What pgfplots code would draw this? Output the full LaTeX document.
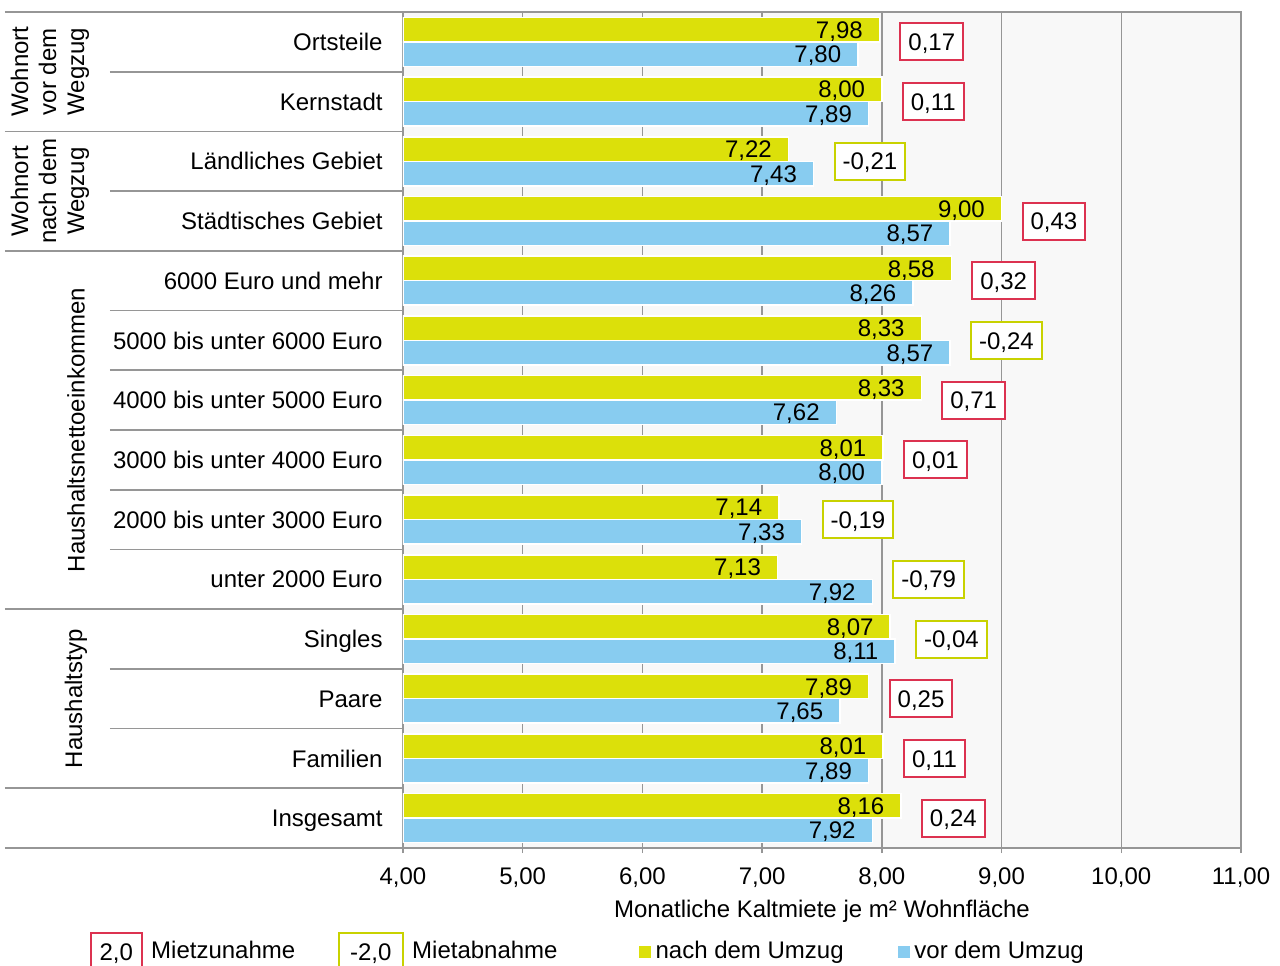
\documentclass[border=0pt]{standalone}
\usepackage{fontspec}
\setmainfont{Liberation Sans}
\usepackage{pgfplots}
\usepackage{pgfplotstable}
\pgfplotsset{compat=1.18}
\definecolor{ylw}{RGB}{220,224,10}
\definecolor{blu}{RGB}{136,204,240}
\definecolor{redb}{RGB}{220,50,80}
\definecolor{ylwb}{RGB}{200,210,0}
\definecolor{gridc}{RGB}{150,150,150}
\definecolor{bgc}{RGB}{248,248,248}

\pgfplotstableread{
y nach vor
13 7.98 7.80
12 8.00 7.89
11 7.22 7.43
10 9.00 8.57
9 8.58 8.26
8 8.33 8.57
7 8.33 7.62
6 8.01 8.00
5 7.14 7.33
4 7.13 7.92
3 8.07 8.11
2 7.89 7.65
1 8.01 7.89
0 8.16 7.92
}\rents

\pgfplotstableread{
x y lab
7.98 13 0,17
8.00 12 0,11
9.00 10 0,43
8.58 9 0,32
8.33 7 0,71
8.01 6 0,01
7.89 2 0,25
8.01 1 0,11
8.16 0 0,24
}\diffpos

\pgfplotstableread{
x y lab
7.43 11 -0,21
8.57 8 -0,24
7.33 5 -0,19
7.92 4 -0,79
8.11 3 -0,04
}\diffneg

\tikzset{diffbox/.style={draw=#1, line width=1pt, fill=white, text=black, inner xsep=4pt, inner ysep=0pt, minimum height=18.5pt, text height=8.6pt, text depth=0pt}}

\begin{document}
\fontsize{12}{14}\selectfont
\begin{tikzpicture}
\useasboundingbox (-201.5pt,-58.5pt) rectangle (438.5pt,424pt);
\begin{axis}[
  width=419pt, height=418pt, scale only axis,
  xmin=4, xmax=11, ymin=-0.5, ymax=13.5,
  clip mode=individual,
  axis background/.style={fill=bgc},
  axis line style={draw=gridc, line width=0.9pt},
  xmajorgrids, grid style={draw=gridc, line width=0.75pt},
  xtick={4,5,...,11}, xtick pos=bottom, tick align=center, major tick length=5pt,
  x tick style={draw=gridc, line width=0.75pt},
  ytick={0,1,...,13}, ytick pos=left, y tick style={draw=none},
  yticklabels={Insgesamt, Familien, Paare, Singles, unter 2000 Euro, 2000 bis unter 3000 Euro, 3000 bis unter 4000 Euro, 4000 bis unter 5000 Euro, 5000 bis unter 6000 Euro, 6000 Euro und mehr, Städtisches Gebiet, Ländliches Gebiet, Kernstadt, Ortsteile},
  yticklabel style={anchor=base east, inner sep=0pt, xshift=-7.5pt, yshift=-4.3pt},
  xticklabel style={anchor=base, inner sep=0pt, yshift=-15.5pt},
  /pgf/number format/use comma, /pgf/number format/fixed, /pgf/number format/fixed zerofill, /pgf/number format/precision=2, /pgf/number format/assume math mode=true,
  xlabel={Monatliche Kaltmiete je m² Wohnfläche},
  xlabel style={at={(axis description cs:0.5,0)}, anchor=base, yshift=-34.5pt, inner sep=0pt},
  legend columns=4, legend cell align=left,
  legend style={draw=none, fill=none, at={(axis description cs:-0.3742,-0.124)}, anchor=west, inner sep=0pt, column sep=0pt, nodes={inner sep=0pt, text=black}},
]
\addplot[xbar, bar width=0.41, bar shift=0.205, fill=ylw, draw=white, line width=0.75pt, forget plot,
  point meta=x, nodes near coords,
  nodes near coords style={anchor=base east, inner sep=0pt, xshift=-8pt, yshift=1.82pt, text=black}]
  table[x=nach, y=y] {\rents};
\addplot[xbar, bar width=0.41, bar shift=-0.205, fill=blu, draw=white, line width=0.75pt, forget plot,
  point meta=x, nodes near coords,
  nodes near coords style={anchor=base east, inner sep=0pt, xshift=-8pt, yshift=-10.42pt, text=black}]
  table[x=vor, y=y] {\rents};
\addplot[draw=none, forget plot, point meta=explicit symbolic, nodes near coords,
  nodes near coords style={diffbox=redb, anchor=west, xshift=10pt}]
  table[x=x, y=y, meta=lab] {\diffpos};
\addplot[draw=none, forget plot, point meta=explicit symbolic, nodes near coords,
  nodes near coords style={diffbox=ylwb, anchor=west, xshift=10pt}]
  table[x=x, y=y, meta=lab] {\diffneg};

\pgfplotsinvokeforeach{13.5,11.5,9.5,3.5,0.5,-0.5}{
  \draw[gridc, line width=0.9pt] ([xshift=-199pt]axis cs:4,#1) -- (axis cs:4,#1);
}
\pgfplotsinvokeforeach{12.5,10.5,8.5,7.5,6.5,5.5,4.5,2.5,1.5}{
  \draw[gridc, line width=0.9pt] ([xshift=-146.5pt]axis cs:4,#1) -- (axis cs:4,#1);
}
\node[rotate=90, align=center, inner sep=0pt] at ([xshift=-176.5pt]axis cs:4,12.5) {Wohnort\\vor dem\\Wegzug};
\node[rotate=90, align=center, inner sep=0pt] at ([xshift=-176.5pt]axis cs:4,10.5) {Wohnort\\nach dem\\Wegzug};
\node[rotate=90, inner sep=0pt] at ([xshift=-163.5pt]axis cs:4,6.5) {Haushaltsnettoeinkommen};
\node[rotate=90, inner sep=0pt] at ([xshift=-163.5pt]axis cs:4,2) {Haushaltstyp};

\addlegendimage{legend image code/.code={\node[diffbox=redb, minimum width=25.5pt, anchor=west] at (0pt,0pt) {2,0}; \path (30.5pt,0pt);}}
\addlegendentry{Mietzunahme\hspace*{21.25pt}}
\addlegendimage{legend image code/.code={\node[diffbox=ylwb, minimum width=32pt, anchor=west] at (0pt,0pt) {-2,0}; \path (37pt,0pt);}}
\addlegendentry{Mietabnahme\hspace*{40.8pt}}
\addlegendimage{legend image code/.code={\fill[ylw] (0pt,-2.75pt) rectangle (5.5pt,2.75pt); \path (7.8pt,0pt);}}
\addlegendentry{nach dem Umzug\hspace*{27.2pt}}
\addlegendimage{legend image code/.code={\fill[blu] (0pt,-2.75pt) rectangle (5.5pt,2.75pt); \path (7.8pt,0pt);}}
\addlegendentry{vor dem Umzug}
\end{axis}
\end{tikzpicture}
\end{document}
